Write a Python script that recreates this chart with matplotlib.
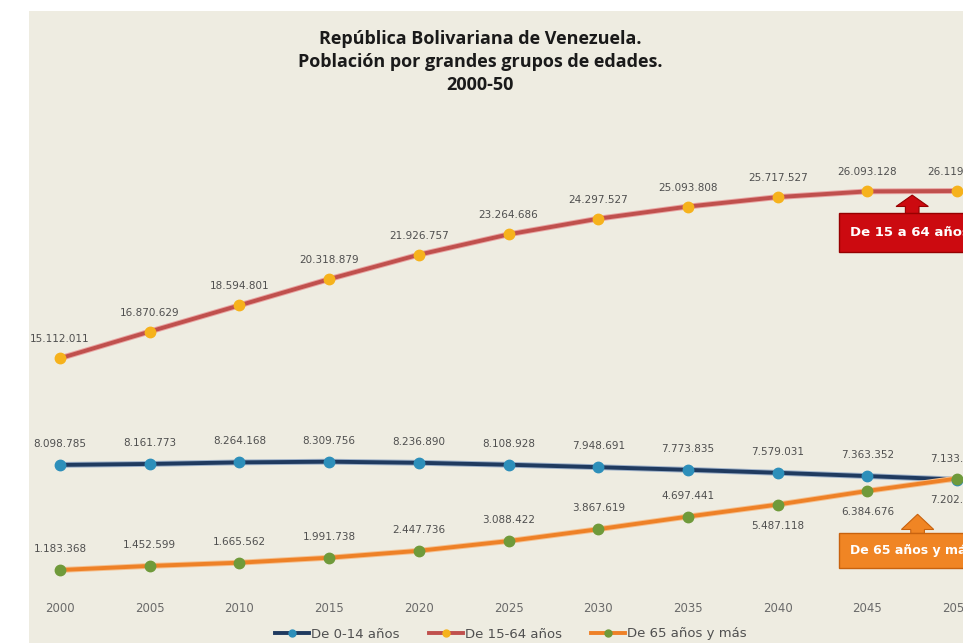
import matplotlib
matplotlib.use("Agg")
import matplotlib.pyplot as plt
import matplotlib.patheffects as pe
from matplotlib.patches import Rectangle, Polygon
from matplotlib.lines import Line2D

# Población por grandes grupos de edades, Venezuela 2000-2050
years = [2000, 2005, 2010, 2015, 2020, 2025, 2030, 2035, 2040, 2045, 2050]
pob_0_14 = [8098785, 8161773, 8264168, 8309756, 8236890, 8108928, 7948691,
            7773835, 7579031, 7363352, 7133456]
pob_15_64 = [15112011, 16870629, 18594801, 20318879, 21926757, 23264686,
             24297527, 25093808, 25717527, 26093128, 26119412]
pob_65 = [1183368, 1452599, 1665562, 1991738, 2447736, 3088422, 3867619,
          4697441, 5487118, 6384676, 7202812]

# posición de las etiquetas de 65+ (True = debajo del punto)
below_65 = [False] * 8 + [True] * 3

BG = "#eeece1"
W, H = 963, 643

fig = plt.figure(figsize=(W / 100, H / 100), dpi=100, facecolor="white")
# fondo beige del área del gráfico
fig.patches.append(Rectangle((29 / W, 0), 1, 1 - 11 / H, transform=fig.transFigure,
                             facecolor=BG, edgecolor="none", zorder=-5))

ax = fig.add_axes([33.1 / W, 55 / H, 968.8 / W, 425.6 / H])
ax.set_zorder(2)
ax.set_facecolor("none")
ax.set_xlim(1998.5, 2052.5)
ax.set_ylim(0, 28e6)
for s in ax.spines.values():
    s.set_visible(False)
ax.set_yticks([])
ax.set_xticks(years)
ax.set_xticklabels([str(y) for y in years], fontsize=8.5, color="#6a6a6a")
ax.tick_params(axis="x", length=0, pad=10)


def fmt(v):
    return f"{v:,}".replace(",", ".")


series = [
    (pob_0_14, "De 0-14 años", "#1f3a5f", "#2d8fba", "#9db0c8"),
    (pob_15_64, "De 15-64 años", "#c0504d", "#f6b21c", "#e8a4a2"),
    (pob_65, "De 65 años y más", "#ee8127", "#6f9a3a", "#f5c08f"),
]
for vals, name, lc, mc, halo in series:
    ax.plot(years, vals, color=lc, lw=2.8, zorder=3,
            path_effects=[pe.Stroke(linewidth=4.2, foreground=halo), pe.Normal()])
    ax.plot(years, vals, ls="none", marker="o", ms=7.5, mfc=mc, mec=mc, zorder=4)

lab_kw = dict(ha="center", va="center", fontsize=7.5, color="#4f4f4f",
              family="DejaVu Sans", zorder=5)
for x, v in zip(years, pob_0_14):
    ax.annotate(fmt(v), (x, v), xytext=(0, 21), textcoords="offset pixels", **lab_kw)
for x, v in zip(years, pob_15_64):
    ax.annotate(fmt(v), (x, v), xytext=(0, 19), textcoords="offset pixels", **lab_kw)
for x, v, b in zip(years, pob_65, below_65):
    ax.annotate(fmt(v), (x, v), xytext=(0, -21 if b else 21),
                textcoords="offset pixels", **lab_kw)


def callout(x_tip, y_tip, y_head, y_box, y_bottom, x_left, color, edge, text, size):
    # flecha hacia arriba + rectángulo con texto (en coordenadas de datos)
    hw, sw = 0.9, 0.38
    arrow = Polygon([(x_tip, y_tip), (x_tip + hw, y_head), (x_tip + sw, y_head),
                     (x_tip + sw, y_box), (x_tip - sw, y_box), (x_tip - sw, y_head),
                     (x_tip - hw, y_head)], closed=True, facecolor=color,
                    edgecolor=edge, lw=0.8, zorder=6)
    box = Rectangle((x_left, y_bottom), 20, y_box - y_bottom, facecolor=color,
                    edgecolor=edge, lw=1.0, zorder=6)
    ax.add_patch(box)
    ax.add_patch(arrow)
    ax.text(x_left + 0.65, (y_box + y_bottom) / 2, text, color="white",
            fontsize=size, fontweight="bold", va="center", ha="left",
            family="DejaVu Sans", zorder=7, clip_on=False)


callout(2047.5, 25.85e6, 25.1e6, 24.65e6, 22.1e6, 2043.4, "#cc0a10", "#960000",
        "De 15 a 64 años", 9.5)
callout(2047.8, 4.85e6, 3.85e6, 3.6e6, 1.3e6, 2043.4, "#f08524", "#c8620e",
        "De 65 años y más", 9)

fig.text(480 / W, 1 - 62 / H,
         "República Bolivariana de Venezuela.\nPoblación por grandes grupos de edades.\n2000-50",
         ha="center", va="center", fontsize=13, fontweight="bold", color="#1a1a1a",
         family="Open Sans", linespacing=1.38)

handles = [Line2D([], [], color=lc, lw=2.8, marker="o", ms=5, mfc=mc, mec=mc)
           for _, _, lc, mc, _ in series]
fig.legend(handles, [s[1] for s in series], loc="center", ncol=3,
           bbox_to_anchor=(511 / W, 1 - 634 / H), frameon=False, fontsize=9.5,
           handlelength=2.6, handletextpad=0.15, columnspacing=2.2,
           labelcolor="#505050")

fig.savefig("out.png", dpi=100, facecolor="white")
